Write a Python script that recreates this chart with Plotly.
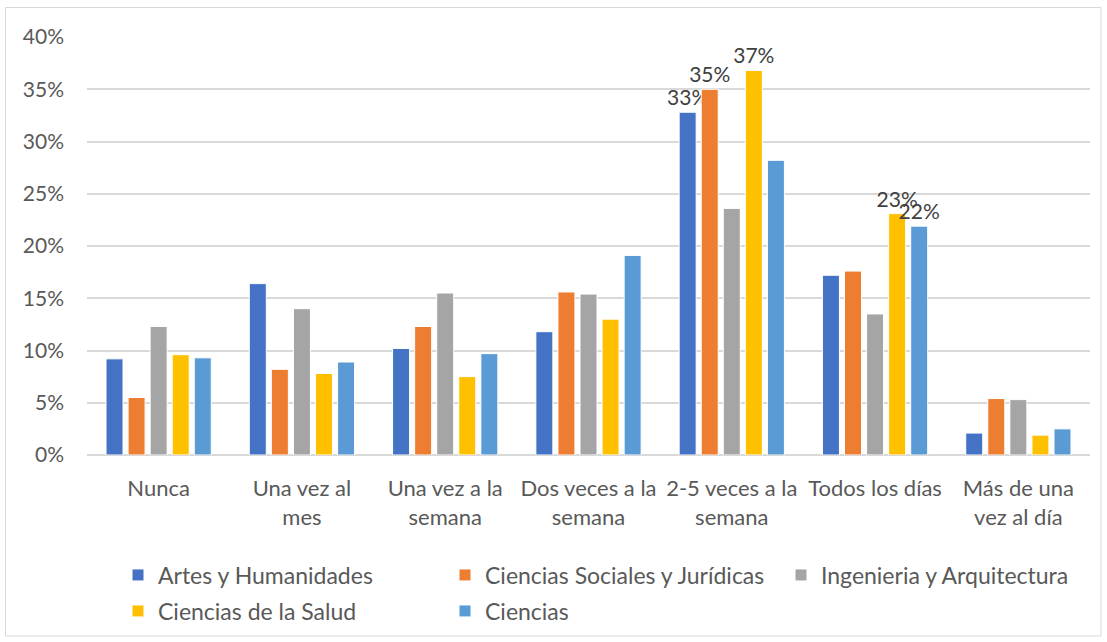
import plotly.graph_objects as go

categories = ["Nunca", "Una vez al<br>mes", "Una vez a la<br>semana", "Dos veces a la<br>semana",
              "2-5 veces a la<br>semana", "Todos los días", "Más de una<br>vez al día"]

series_names = ["Artes y Humanidades", "Ciencias Sociales y Jurídicas", "Ingenieria y Arquitectura",
                "Ciencias de la Salud", "Ciencias"]
colors = ["#4472C4", "#ED7D31", "#A5A5A5", "#FFC000", "#5B9BD5"]

artes = [9.2, 16.4, 10.2, 11.8, 32.8, 17.2, 2.1]
sociales = [5.5, 8.2, 12.3, 15.6, 35.0, 17.6, 5.4]
ingenieria = [12.3, 14.0, 15.5, 15.4, 23.6, 13.5, 5.3]
salud = [9.6, 7.8, 7.5, 13.0, 36.8, 23.1, 1.9]
ciencias = [9.3, 8.9, 9.7, 19.1, 28.2, 21.9, 2.5]

# which bars carry a data label (series index -> category indices)
labelled = {0: [4], 1: [4], 3: [4, 5], 4: [5]}

values = [artes, sociales, ingenieria, salud, ciencias]

FONT = "Lato"
W, H = 1107, 642
L, R, T, B = 87, 17, 37, 187
pw, ph = W - L - R, H - T - B

def px_x(p):
    return (p - L) / pw

def px_y(p):
    return (H - B - p) / ph

# legend entry positions (pixels): grid of 3 columns x 2 rows
legend_pos = [(118, 575), (445, 575), (781, 575), (118, 611), (445, 611)]

fig = go.Figure()
legend_layouts = {}
for i, (name, vals, col) in enumerate(zip(series_names, values, colors)):
    txt = [f"{v:.0f}%" if j in labelled.get(i, []) else "" for j, v in enumerate(vals)]
    lg = "legend" if i == 0 else f"legend{i + 1}"
    fig.add_trace(go.Bar(
        name=name, x=categories, y=vals, marker=dict(color=col, line=dict(color="white", width=1)),
        text=txt, textposition="outside", cliponaxis=False, constraintext="none",
        textfont=dict(family=FONT, size=21, color="#404040"),
        legend=lg,
    ))
    lx, ly = legend_pos[i]
    legend_layouts[lg] = dict(orientation="h", x=px_x(lx), y=px_y(ly), xanchor="left",
                              yanchor="middle", font=dict(family=FONT, size=23, color="#595959"),
                              bgcolor="rgba(0,0,0,0)", borderwidth=0)

fig.update_layout(
    width=W, height=H, barmode="group", bargap=0.23, bargroupgap=0.23,
    plot_bgcolor="white", paper_bgcolor="white",
    margin=dict(l=L, r=R, t=T, b=B, autoexpand=False),
    font=dict(family=FONT, size=21, color="#595959"),
    showlegend=True,
    shapes=[dict(type="rect", xref="paper", yref="paper",
                 x0=px_x(5.5), x1=px_x(1101), y0=px_y(636), y1=px_y(7.5),
                 line=dict(color="#d9d9d9", width=1), fillcolor="rgba(0,0,0,0)", layer="below")],
    **legend_layouts,
)
fig.update_yaxes(range=[0, 40], dtick=5, ticksuffix="%", showgrid=True, gridcolor="#d9d9d9",
                 gridwidth=1.5, zeroline=True, zerolinecolor="#d9d9d9", zerolinewidth=1.5,
                 showline=False, ticklabelstandoff=22, tickfont=dict(size=21, color="#595959"))
fig.update_xaxes(showgrid=False, showline=False, ticks="", ticklabelstandoff=18,
                 tickfont=dict(size=22, color="#595959"))

fig.write_html("out.html", config={"displayModeBar": False},
               post_script="document.body.style.margin='0';")
